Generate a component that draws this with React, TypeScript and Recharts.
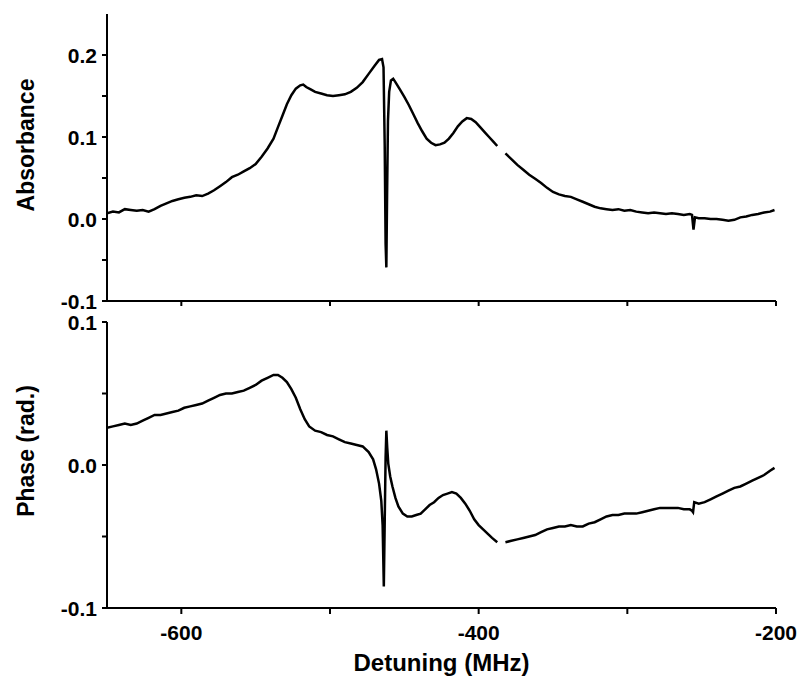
import React from 'react';
import { LineChart, Line, XAxis, YAxis, Label } from 'recharts';

// Absorbance trace (top panel)
const absDetuning = [
  -650, -646, -642, -638, -634, -630, -626, -622, -618, -614, -610, -606, -602, -598, -594, -590,
  -586, -582, -578, -574, -570, -566, -562, -558, -554, -550, -546, -542, -538, -535, -532, -529,
  -526, -523, -520, -518, -516, -513, -510, -506, -502, -498, -494, -490, -486, -482, -478, -474,
  -470, -467, -465, -464, -463.2, -462.6, -462.1, -461.6, -461, -460.2, -459, -457.5, -456, -453,
  -450, -447, -444, -441, -438, -435, -432, -429, -426, -423, -420, -417, -414, -411, -408, -405,
  -402, -399, -396, -393, -390, -387.5, -385, -382, -378, -374, -370, -366, -362, -358, -354, -350,
  -346, -342, -338, -334, -330, -326, -322, -318, -314, -310, -306, -302, -298, -294, -290, -286,
  -282, -278, -274, -270, -266, -262, -258, -256.5, -255.5, -254.5, -252, -248, -244, -240, -236,
  -232, -228, -224, -220, -216, -212, -208, -204, -201,
];
const absorbance = [
  0.007, 0.009, 0.008, 0.012, 0.011, 0.010, 0.011, 0.009, 0.012, 0.016, 0.019, 0.022, 0.024, 0.026, 0.027, 0.029,
  0.028, 0.031, 0.035, 0.040, 0.045, 0.051, 0.054, 0.058, 0.062, 0.067, 0.076, 0.086, 0.098, 0.112, 0.126, 0.140,
  0.151, 0.159, 0.163, 0.164, 0.161, 0.158, 0.155, 0.153, 0.151, 0.150, 0.151, 0.152, 0.155, 0.160, 0.167, 0.177,
  0.187, 0.194, 0.195, 0.185, 0.090, -0.030, -0.059, 0.030, 0.120, 0.155, 0.169, 0.171, 0.167, 0.158,
  0.149, 0.139, 0.128, 0.117, 0.107, 0.098, 0.093, 0.090, 0.091, 0.093, 0.098, 0.105, 0.113, 0.119, 0.123, 0.122,
  0.118, 0.112, 0.106, 0.100, 0.094, 0.089, null, 0.080, 0.073, 0.066, 0.060, 0.054, 0.049, 0.044, 0.038, 0.033,
  0.030, 0.028, 0.027, 0.024, 0.021, 0.018, 0.015, 0.013, 0.012, 0.011, 0.012, 0.010, 0.011, 0.009, 0.008, 0.007,
  0.008, 0.007, 0.006, 0.007, 0.006, 0.005, 0.006, 0.005, -0.013, 0.002, 0.001, 0.001, 0.000, 0.000, -0.001,
  -0.002, -0.001, 0.002, 0.003, 0.005, 0.006, 0.008, 0.009, 0.011,
];

// Phase trace (bottom panel)
const phaseDetuning = [
  -650, -646, -642, -638, -634, -630, -626, -622, -618, -614, -610, -606, -602, -598, -594, -590,
  -586, -582, -578, -574, -570, -566, -562, -558, -554, -550, -546, -542, -538, -535, -532, -529,
  -526, -523, -520, -517, -514, -510, -506, -502, -498, -494, -490, -486, -482, -478, -474, -471,
  -469, -467, -465.5, -464.6, -463.8, -463.2, -462.6, -462.1, -461.5, -460.8, -459.5, -458, -456, -454,
  -451, -448, -445, -442, -439, -436, -433, -430, -427, -424, -421, -418, -415, -412, -409, -406,
  -403, -400, -397, -394, -391, -387.5, -385, -382, -378, -374, -370, -366, -362, -358, -354, -350,
  -346, -342, -338, -334, -330, -326, -322, -318, -314, -310, -306, -302, -298, -294, -290, -286,
  -282, -278, -274, -270, -266, -262, -258, -256.5, -255.8, -255, -252, -248, -244, -240, -236,
  -232, -228, -224, -220, -216, -212, -208, -204, -201,
];
const phase = [
  0.026, 0.027, 0.028, 0.029, 0.028, 0.029, 0.031, 0.033, 0.035, 0.035, 0.036, 0.037, 0.038, 0.040, 0.041, 0.042,
  0.043, 0.045, 0.047, 0.049, 0.050, 0.050, 0.051, 0.052, 0.054, 0.056, 0.059, 0.061, 0.063, 0.063, 0.061, 0.058,
  0.053, 0.047, 0.039, 0.032, 0.027, 0.024, 0.023, 0.021, 0.020, 0.018, 0.016, 0.015, 0.014, 0.013, 0.009, 0.004,
  -0.003, -0.013, -0.025, -0.042, -0.085, -0.040, 0.005, 0.024, 0.012, 0.001, -0.008, -0.015, -0.023, -0.029,
  -0.034, -0.036, -0.036, -0.035, -0.034, -0.031, -0.028, -0.026, -0.023, -0.021, -0.020, -0.019, -0.020, -0.023, -0.027, -0.032,
  -0.038, -0.042, -0.045, -0.048, -0.051, -0.054, null, -0.054, -0.053, -0.052, -0.051, -0.050, -0.049, -0.047, -0.045, -0.044,
  -0.043, -0.043, -0.042, -0.043, -0.043, -0.041, -0.040, -0.038, -0.036, -0.035, -0.035, -0.034, -0.034, -0.034, -0.033, -0.032,
  -0.031, -0.030, -0.030, -0.030, -0.030, -0.031, -0.031, -0.032, -0.033, -0.026, -0.027, -0.026, -0.024, -0.022, -0.020,
  -0.018, -0.016, -0.015, -0.013, -0.011, -0.009, -0.007, -0.004, -0.002,
];

const xTicks = [-600, -500, -400, -300, -200];
const xLabels = [-600, -400, -200];
const absTicks = [-0.1, -0.05, 0, 0.05, 0.1, 0.15, 0.2];
const absLabels = [-0.1, 0, 0.1, 0.2];
const phaseTicks = [-0.1, -0.05, 0, 0.05, 0.1];
const phaseLabels = [-0.1, 0, 0.1];

const absData = absDetuning.map((x, i) => ({ x, y: absorbance[i] }));
const phaseData = phaseDetuning.map((x, i) => ({ x, y: phase[i] }));

const FONT = '"Liberation Sans", Arial, Helvetica, sans-serif';

const near = (list: number[], v: number) => list.some((t) => Math.abs(t - v) < 1e-6);

const makeYTick = (labels: number[]) => (props: any) => {
  const { x, y, payload } = props;
  if (!near(labels, payload.value)) return <g />;
  return (
    <text x={x} y={y} textAnchor="end" dominantBaseline="central" fill="#000"
      fontFamily={FONT} fontWeight="bold" fontSize={21}>
      {payload.value.toFixed(1)}
    </text>
  );
};

const XTick = (props: any) => {
  const { x, y, payload } = props;
  if (!near(xLabels, payload.value)) return <g />;
  return (
    <text x={x} y={y} dy="0.71em" textAnchor="middle" fill="#000"
      fontFamily={FONT} fontWeight="bold" fontSize={21}>
      {payload.value}
    </text>
  );
};

const YTitle = (cy: number) => (props: any) => {
  const cx = 26;
  return (
    <text x={cx} y={cy} transform={`rotate(-90 ${cx} ${cy})`} textAnchor="middle"
      dominantBaseline="central" fill="#000" fontFamily={FONT} fontWeight="bold" fontSize={23}>
      {props.value}
    </text>
  );
};

const XTitle = (props: any) => {
  const { viewBox } = props;
  const cx = viewBox.x + viewBox.width / 2;
  return (
    <text x={cx} y={362} textAnchor="middle" dominantBaseline="central" fill="#000"
      fontFamily={FONT} fontWeight="bold" fontSize={24}>
      {props.value}
    </text>
  );
};

const axisStroke = { stroke: '#000', strokeWidth: 2 };

export default function App() {
  return (
    <div style={{ position: 'fixed', left: 0, top: 0, width: 800, height: 688, background: '#fff' }}>
      <div style={{ position: 'absolute', left: 0, top: 0 }}>
        <LineChart width={800} height={320} data={absData} margin={{ top: 14, right: 24, bottom: 0, left: 0 }}>
          <XAxis type="number" dataKey="x" domain={[-650, -200]} ticks={xTicks} allowDataOverflow
            height={19} axisLine={axisStroke} tickLine={axisStroke} tickSize={5} tick={() => <g />} />
          <YAxis type="number" domain={[-0.1, 0.25]} ticks={absTicks} allowDataOverflow width={107}
            axisLine={axisStroke} tickLine={axisStroke} tickSize={5} tickMargin={5}
            tick={makeYTick(absLabels)} interval={0}>
            <Label value="Absorbance" content={YTitle(145)} />
          </YAxis>
          <Line type="linear" dataKey="y" stroke="#000" strokeWidth={2.5} dot={false}
            connectNulls={false} isAnimationActive={false} />
        </LineChart>
      </div>
      <div style={{ position: 'absolute', left: 0, top: 300 }}>
        <LineChart width={800} height={388} data={phaseData} margin={{ top: 22, right: 24, bottom: 0, left: 0 }}>
          <XAxis type="number" dataKey="x" domain={[-650, -200]} ticks={xTicks} allowDataOverflow
            height={80} axisLine={axisStroke} tickLine={axisStroke} tickSize={6} tickMargin={11}
            tick={XTick} interval={0}>
            <Label value="Detuning (MHz)" content={XTitle} />
          </XAxis>
          <YAxis type="number" domain={[-0.1, 0.1]} ticks={phaseTicks} allowDataOverflow width={107}
            axisLine={axisStroke} tickLine={axisStroke} tickSize={5} tickMargin={5}
            tick={makeYTick(phaseLabels)} interval={0}>
            <Label value="Phase (rad.)" content={YTitle(151)} />
          </YAxis>
          <Line type="linear" dataKey="y" stroke="#000" strokeWidth={2.5} dot={false}
            connectNulls={false} isAnimationActive={false} />
        </LineChart>
      </div>
    </div>
  );
}
